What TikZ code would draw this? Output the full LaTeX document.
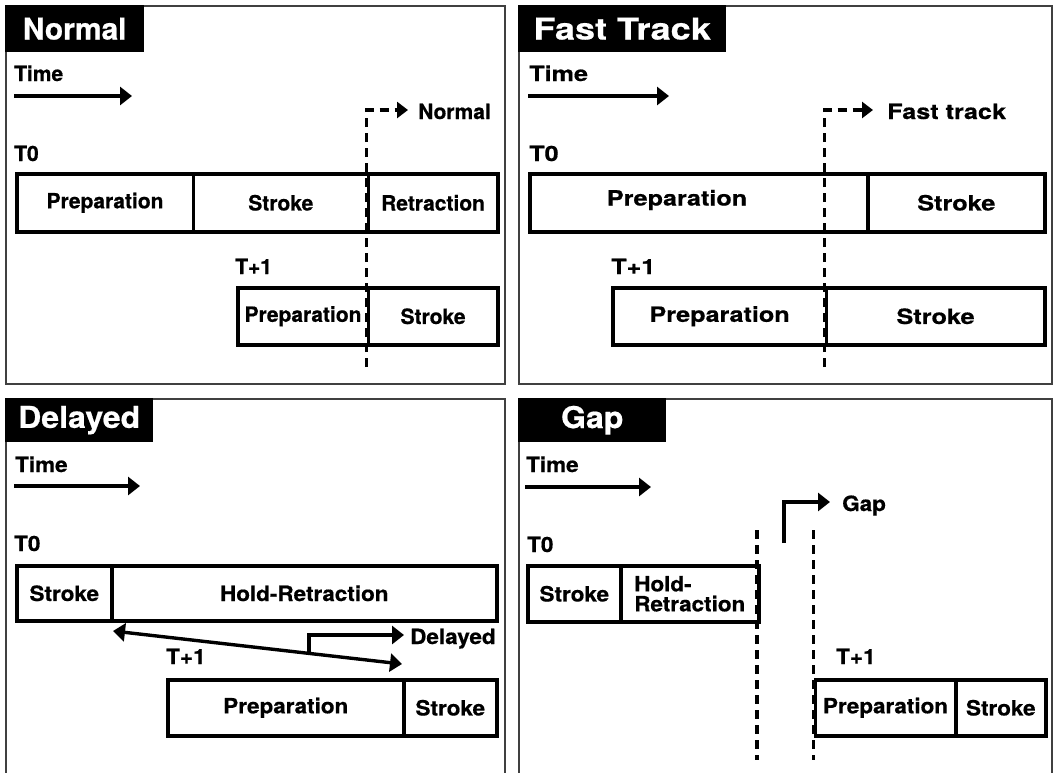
\documentclass[tikz,border=0pt]{standalone}
\usepackage{fontspec}
\setmainfont{TeX Gyre Heros}
\newfontfamily\fN{TeX Gyre Heros}[FakeBold=0.6]
\newfontfamily\fD{TeX Gyre Heros}[FakeStretch=1.07,FakeBold=0.6]
\newfontfamily\fF{TeX Gyre Heros}[FakeStretch=1.2,FakeBold=0.6]
\usetikzlibrary{arrows.meta,calc}
\def\pfont{\fN}
\tikzset{
  panel/.style={draw=black!75, line width=1.8pt, anchor=north west, inner sep=0pt},
  ttl/.style={fill=black, text=white, anchor=north west, inner sep=0pt,
    font=\pfont\bfseries\fontsize{30}{30}\selectfont},
  txt/.style={font=\pfont\bfseries\fontsize{21}{20}\selectfont},
  lbl/.style={txt, anchor=base west, inner sep=0pt},
  seg/.style={draw, line width=3.6pt, inner sep=0pt, anchor=north west, txt},
  tarrow/.style={line width=3.4pt, -{Triangle[length=12pt,width=18pt]}},
  darrow/.style={line width=3.4pt, dash pattern=on 9pt off 6pt, -{Triangle[length=11pt,width=16pt]}},
  dline/.style={line width=3.4pt, dash pattern=on 9pt off 6pt},
}
\begin{document}
\begin{tikzpicture}[x=1pt,y=-1pt]
\useasboundingbox (0,0) rectangle (1054,772);
\clip (0,0) rectangle (1054,772);
\fill[white] (0,0) rectangle (1054,772);

% ---------------- Normal ----------------
\begin{scope}
\def\pfont{\fN}
\node[panel, minimum width=499pt, minimum height=378pt] (nP) at (5,5) {};
\node[ttl, minimum width=139pt, minimum height=47pt] (nT) at (5,5) {Normal};
\node[lbl] (nTime) at (14,81) {Time};
\coordinate (na0) at (14,96);
\coordinate (na1) at (132,96);
\draw[tarrow] (na0) -- (na1);
\node[lbl] (nT0) at (14,161) {T0};
\node[seg, minimum width=176.5pt, minimum height=58pt] (nA1) at (15,172) {Preparation};
\node[seg, minimum width=175pt, minimum height=58pt] (nA2) at (191.5,172) {Stroke};
\node[seg, minimum width=129.5pt, minimum height=58pt] (nA3) at (366.5,172) {Retraction};
\node[lbl] (nT1) at (235,274) {T+1};
\node[seg, minimum width=130.5pt, minimum height=57pt] (nB1) at (236,286) {Preparation};
\node[seg, minimum width=129.5pt, minimum height=57pt] (nB2) at (366.5,286) {Stroke};
\coordinate (nd0) at (366.5,367);
\coordinate (nd1) at (408,110);
\draw[darrow] (nd0) |- (nd1);
\node[lbl] (nL) at (418,119) {Normal};
\end{scope}

% ---------------- Fast Track ----------------
\begin{scope}
\def\pfont{\fF}
\node[panel, minimum width=533pt, minimum height=378pt] (fP) at (518,5) {};
\node[ttl, minimum width=208pt, minimum height=47pt] (fT) at (518,5) {Fast Track};
\node[lbl] (fTime) at (529,81) {Time};
\coordinate (fa0) at (528,96);
\coordinate (fa1) at (669,96);
\draw[tarrow] (fa0) -- (fa1);
\node[lbl] (fT0) at (529,161) {T0};
\node[seg, minimum width=338pt, minimum height=58pt] (fA1) at (528,172) {};
\node[txt, inner sep=0pt] (fA1t) at (677,200) {Preparation};
\node[seg, minimum width=177pt, minimum height=58pt] (fA2) at (866,172) {Stroke};
\node[lbl] (fT1) at (611,274) {T+1};
\node[seg, minimum width=213.5pt, minimum height=57pt] (fB1) at (611,286) {Preparation};
\node[seg, minimum width=218.5pt, minimum height=57pt] (fB2) at (824.5,286) {Stroke};
\coordinate (fd0) at (824.5,367);
\coordinate (fd1) at (873,110);
\draw[darrow] (fd0) |- (fd1);
\node[lbl] (fL) at (887,119) {Fast track};
\end{scope}

% ---------------- Delayed ----------------
\begin{scope}
\def\pfont{\fD}
\node[panel, minimum width=499pt, minimum height=392pt] (dP) at (5,398) {};
\node[ttl, minimum width=148pt, minimum height=44pt] (dT) at (5,398) {Delayed};
\node[lbl] (dTime) at (15,472) {Time};
\coordinate (da0) at (14,486);
\coordinate (da1) at (140,486);
\draw[tarrow] (da0) -- (da1);
\node[lbl] (dT0) at (14,551) {T0};
\node[seg, minimum width=95pt, minimum height=55pt] (dA1) at (15,564) {Stroke};
\node[seg, minimum width=385pt, minimum height=55pt] (dA2) at (110,564) {Hold-Retraction};
\node[lbl] (dT1) at (166,664) {T+1};
\node[seg, minimum width=236pt, minimum height=56pt] (dB1) at (166,678) {Preparation};
\node[seg, minimum width=93pt, minimum height=56pt] (dB2) at (402,678) {Stroke};
\coordinate (dl) at (113,631);
\coordinate (dr) at (402,664);
\draw[line width=3.4pt, {Triangle[length=12pt,width=18pt]}-{Triangle[length=12pt,width=18pt]}] (dl) -- (dr);
\coordinate (db) at ($(dl)!0.678!(dr)$);
\coordinate (dt) at (404,635);
\draw[tarrow] (db) |- (dt);
\node[lbl] (dL) at (410,644) {Delayed};
\end{scope}

% ---------------- Gap ----------------
\begin{scope}
\def\pfont{\fD}
\node[panel, minimum width=533pt, minimum height=392pt] (gP) at (518,398) {};
\node[ttl, minimum width=148pt, minimum height=44pt] (gT) at (518,398) {Gap};
\node[lbl] (gTime) at (526,472) {Time};
\coordinate (ga0) at (525,487);
\coordinate (ga1) at (651,487);
\draw[tarrow] (ga0) -- (ga1);
\node[lbl] (gT0) at (527,552) {T0};
\node[seg, minimum width=93pt, minimum height=56pt] (gA1) at (526,564) {Stroke};
\node[seg, minimum width=138pt, minimum height=56pt, align=left] (gA2) at (619,564) {Hold-\\Retraction};
\coordinate (gl0) at (757,530);
\coordinate (gl1) at (757,760);
\coordinate (gr0) at (813.5,530);
\coordinate (gr1) at (813.5,760);
\draw[dline] (gl0) -- (gl1);
\draw[dline] (gr0) -- (gr1);
\coordinate (gb) at (784,543);
\coordinate (gt) at (830,502);
\draw[tarrow] (gb) |- (gt);
\node[lbl] (gL) at (842,511) {Gap};
\node[lbl] (gT1) at (836,664) {T+1};
\node[seg, minimum width=140.5pt, minimum height=56pt] (gB1) at (813.5,678) {Preparation};
\node[seg, minimum width=90pt, minimum height=56pt] (gB2) at (954,678) {Stroke};
\end{scope}
\end{tikzpicture}
\end{document}
